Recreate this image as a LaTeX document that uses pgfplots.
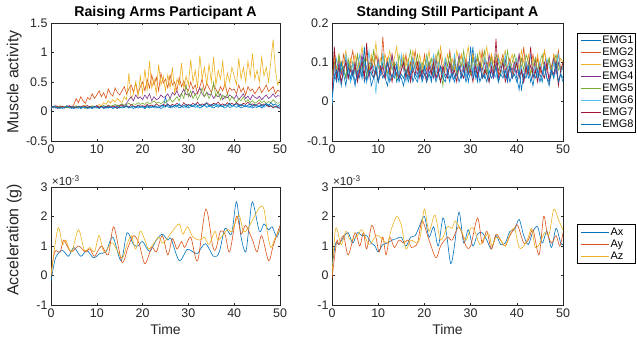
\documentclass[border=0pt]{standalone}
\usepackage{fontspec}
\setmainfont{Liberation Sans}
\usepackage{pgfplots}
\pgfplotsset{compat=1.18}
\usepackage{pgfplotstable}

\definecolor{c1}{rgb}{0,0.447,0.741}
\definecolor{c2}{rgb}{0.85,0.325,0.098}
\definecolor{c3}{rgb}{0.929,0.694,0.125}
\definecolor{c4}{rgb}{0.494,0.184,0.556}
\definecolor{c5}{rgb}{0.466,0.674,0.188}
\definecolor{c6}{rgb}{0.301,0.745,0.933}
\definecolor{c7}{rgb}{0.635,0.078,0.184}
\definecolor{axgray}{rgb}{0.15,0.15,0.15}

% ---------- Raising arms (top left), sampled every 0.5 s ----------
\pgfplotstableread[header=false,row sep=\\]{
0.05\\0.08\\0.06\\0.07\\0.05\\0.09\\0.06\\0.07\\0.08\\0.05\\
0.07\\0.06\\0.08\\0.05\\0.07\\0.09\\0.06\\0.07\\0.05\\0.08\\
0.06\\0.07\\0.09\\0.05\\0.07\\0.06\\0.08\\0.06\\0.07\\0.05\\
0.08\\0.06\\0.07\\0.09\\0.06\\0.08\\0.05\\0.07\\0.06\\0.08\\
0.07\\0.05\\0.08\\0.06\\0.09\\0.07\\0.06\\0.08\\0.05\\0.07\\
0.25\\0.08\\0.06\\0.09\\0.07\\0.1\\0.06\\0.08\\0.07\\0.09\\
0.06\\0.08\\0.1\\0.07\\0.09\\0.06\\0.08\\0.11\\0.07\\0.09\\
0.08\\0.06\\0.09\\0.07\\0.1\\0.08\\0.06\\0.09\\0.07\\0.08\\
0.1\\0.07\\0.09\\0.06\\0.08\\0.1\\0.07\\0.09\\0.06\\0.08\\
0.07\\0.09\\0.06\\0.1\\0.14\\0.08\\0.1\\0.07\\0.09\\0.06\\0.08\\}\raA
\pgfplotstableread[header=false,row sep=\\]{
0.06\\0.08\\0.07\\0.09\\0.06\\0.08\\0.07\\0.1\\0.08\\0.07\\
0.12\\0.22\\0.15\\0.25\\0.18\\0.14\\0.24\\0.2\\0.3\\0.22\\
0.28\\0.35\\0.25\\0.32\\0.22\\0.38\\0.3\\0.26\\0.4\\0.32\\
0.28\\0.35\\0.42\\0.3\\0.38\\0.45\\0.33\\0.48\\0.3\\0.42\\
0.5\\0.35\\0.55\\0.4\\0.62\\0.45\\0.58\\0.35\\0.65\\0.48\\
0.55\\0.4\\0.62\\0.45\\0.5\\0.35\\0.58\\0.42\\0.52\\0.4\\
0.35\\0.5\\0.38\\0.45\\0.3\\0.42\\0.55\\0.35\\0.48\\0.4\\
0.32\\0.45\\0.38\\0.3\\0.42\\0.35\\0.48\\0.3\\0.4\\0.36\\
0.38\\0.3\\0.45\\0.33\\0.4\\0.28\\0.42\\0.35\\0.38\\0.3\\
0.36\\0.42\\0.32\\0.38\\0.45\\0.34\\0.38\\0.42\\0.3\\0.36\\0.34\\}\raB
\pgfplotstableread[header=false,row sep=\\]{
0.07\\0.09\\0.06\\0.08\\0.1\\0.07\\0.09\\0.08\\0.06\\0.09\\
0.08\\0.1\\0.07\\0.09\\0.08\\0.11\\0.09\\0.07\\0.1\\0.08\\
0.09\\0.12\\0.1\\0.15\\0.12\\0.18\\0.14\\0.2\\0.16\\0.22\\
0.18\\0.15\\0.25\\0.2\\0.65\\0.22\\0.3\\0.5\\0.25\\0.6\\
0.3\\0.72\\0.35\\0.85\\0.4\\0.55\\0.3\\0.8\\0.45\\0.6\\
0.35\\0.62\\0.4\\0.75\\0.3\\0.55\\0.45\\0.82\\0.38\\0.6\\
0.45\\0.88\\0.5\\0.7\\0.4\\0.95\\0.55\\0.75\\0.45\\0.8\\
0.5\\0.92\\0.45\\0.7\\0.55\\0.85\\0.4\\0.65\\0.5\\0.75\\
0.6\\0.45\\0.9\\0.55\\0.75\\0.5\\0.85\\0.6\\0.98\\0.55\\
0.7\\0.5\\0.92\\0.6\\0.75\\0.5\\0.85\\1.22\\0.7\\0.45\\0.55\\}\raC
\pgfplotstableread[header=false,row sep=\\]{
0.06\\0.08\\0.07\\0.05\\0.09\\0.07\\0.06\\0.08\\0.07\\0.09\\
0.06\\0.08\\0.07\\0.09\\0.06\\0.08\\0.1\\0.07\\0.08\\0.06\\
0.09\\0.07\\0.08\\0.1\\0.07\\0.09\\0.08\\0.1\\0.09\\0.11\\
0.1\\0.12\\0.1\\0.14\\0.2\\0.25\\0.18\\0.28\\0.22\\0.25\\
0.2\\0.28\\0.22\\0.3\\0.18\\0.25\\0.2\\0.22\\0.28\\0.24\\
0.25\\0.3\\0.22\\0.32\\0.28\\0.35\\0.25\\0.3\\0.38\\0.28\\
0.3\\0.25\\0.35\\0.28\\0.32\\0.4\\0.3\\0.25\\0.33\\0.28\\
0.3\\0.22\\0.28\\0.25\\0.3\\0.2\\0.26\\0.23\\0.28\\0.25\\
0.22\\0.28\\0.2\\0.25\\0.3\\0.22\\0.26\\0.2\\0.28\\0.24\\
0.22\\0.26\\0.2\\0.24\\0.28\\0.22\\0.25\\0.3\\0.24\\0.27\\0.26\\}\raD
\pgfplotstableread[header=false,row sep=\\]{
0.07\\0.06\\0.08\\0.07\\0.09\\0.06\\0.08\\0.07\\0.06\\0.08\\
0.07\\0.09\\0.06\\0.08\\0.07\\0.05\\0.08\\0.07\\0.09\\0.08\\
0.07\\0.09\\0.08\\0.1\\0.08\\0.11\\0.09\\0.1\\0.12\\0.1\\
0.11\\0.13\\0.1\\0.12\\0.14\\0.11\\0.13\\0.12\\0.15\\0.12\\
0.14\\0.12\\0.16\\0.13\\0.15\\0.18\\0.14\\0.16\\0.13\\0.17\\
0.15\\0.18\\0.22\\0.16\\0.2\\0.25\\0.18\\0.3\\0.22\\0.45\\
0.25\\0.35\\0.22\\0.3\\0.2\\0.28\\0.4\\0.25\\0.32\\0.22\\
0.3\\0.5\\0.25\\0.35\\0.2\\0.28\\0.22\\0.3\\0.18\\0.25\\
0.2\\0.15\\0.22\\0.18\\0.25\\0.16\\0.2\\0.15\\0.18\\0.14\\
0.16\\0.2\\0.15\\0.18\\0.14\\0.17\\0.15\\0.2\\0.16\\0.14\\0.15\\}\raE
\pgfplotstableread[header=false,row sep=\\]{
0.08\\0.06\\0.09\\0.07\\0.05\\0.08\\0.06\\0.1\\0.07\\0.06\\
0.09\\0.07\\0.05\\0.08\\0.06\\0.09\\0.07\\0.05\\0.08\\0.06\\
0.07\\0.09\\0.06\\0.08\\0.05\\0.07\\0.09\\0.06\\0.08\\0.07\\
0.06\\0.08\\0.1\\0.07\\0.09\\0.06\\0.08\\0.07\\0.1\\0.08\\
0.06\\0.09\\0.07\\0.1\\0.08\\0.06\\0.09\\0.07\\0.11\\0.08\\
0.07\\0.1\\0.08\\0.12\\0.09\\0.07\\0.11\\0.08\\0.1\\0.06\\
0.09\\0.12\\0.08\\0.1\\0.07\\0.11\\0.09\\0.13\\0.08\\0.1\\
0.07\\0.11\\0.09\\0.12\\0.08\\0.1\\0.06\\0.09\\0.11\\0.08\\
0.1\\0.07\\0.12\\0.09\\0.11\\0.08\\0.1\\0.06\\0.09\\0.12\\
0.08\\0.11\\0.09\\0.07\\0.1\\0.12\\0.08\\0.1\\0.07\\0.09\\0.08\\}\raF
\pgfplotstableread[header=false,row sep=\\]{
0.09\\0.07\\0.1\\0.08\\0.06\\0.09\\0.07\\0.08\\0.1\\0.07\\
0.08\\0.06\\0.09\\0.07\\0.1\\0.08\\0.06\\0.09\\0.07\\0.08\\
0.1\\0.07\\0.09\\0.06\\0.08\\0.1\\0.07\\0.09\\0.08\\0.06\\
0.09\\0.11\\0.08\\0.1\\0.07\\0.12\\0.09\\0.08\\0.11\\0.09\\
0.1\\0.08\\0.12\\0.09\\0.11\\0.08\\0.13\\0.1\\0.09\\0.12\\
0.1\\0.13\\0.09\\0.12\\0.1\\0.14\\0.11\\0.09\\0.15\\0.1\\
0.12\\0.1\\0.14\\0.11\\0.16\\0.1\\0.13\\0.11\\0.15\\0.12\\
0.1\\0.14\\0.12\\0.16\\0.11\\0.13\\0.1\\0.15\\0.12\\0.14\\
0.11\\0.15\\0.12\\0.1\\0.14\\0.12\\0.16\\0.11\\0.13\\0.1\\
0.12\\0.15\\0.1\\0.13\\0.11\\0.08\\0.1\\0.06\\0.09\\0.07\\0.05\\}\raG
\pgfplotstableread[header=false,row sep=\\]{
0.06\\0.09\\0.07\\0.06\\0.08\\0.05\\0.07\\0.09\\0.06\\0.08\\
0.05\\0.07\\0.09\\0.06\\0.08\\0.07\\0.05\\0.08\\0.06\\0.09\\
0.07\\0.05\\0.08\\0.07\\0.09\\0.06\\0.08\\0.05\\0.07\\0.09\\
0.06\\0.08\\0.07\\0.1\\0.06\\0.08\\0.09\\0.06\\0.1\\0.07\\
0.09\\0.06\\0.1\\0.08\\0.07\\0.1\\0.08\\0.06\\0.09\\0.11\\
0.08\\0.12\\0.09\\0.07\\0.11\\0.09\\0.13\\0.08\\0.1\\0.12\\
0.09\\0.11\\0.08\\0.13\\0.1\\0.12\\0.08\\0.11\\0.14\\0.09\\
0.12\\0.1\\0.13\\0.09\\0.11\\0.08\\0.12\\0.1\\0.14\\0.09\\
0.11\\0.13\\0.09\\0.12\\0.1\\0.08\\0.11\\0.13\\0.09\\0.12\\
0.1\\0.08\\0.12\\0.09\\0.13\\0.1\\0.15\\0.11\\0.13\\0.09\\0.12\\}\raH

% ---------- Standing still (top right), sampled every 0.5 s ----------
\pgfplotstableread[header=false,row sep=\\]{
0.0\\0.07\\0.05\\0.09\\0.04\\0.08\\0.06\\0.1\\0.05\\0.07\\
0.04\\0.08\\0.06\\0.11\\0.05\\0.07\\0.09\\0.04\\0.06\\0.08\\
0.05\\0.07\\0.1\\0.06\\0.04\\0.08\\0.06\\0.09\\0.05\\0.07\\
0.06\\0.04\\0.08\\0.06\\0.1\\0.05\\0.07\\0.06\\0.09\\0.05\\
0.07\\0.06\\0.08\\0.05\\0.09\\0.06\\0.07\\0.05\\0.08\\0.06\\
0.07\\0.05\\0.09\\0.06\\0.08\\0.05\\0.07\\0.06\\0.1\\0.05\\
0.08\\0.14\\0.06\\0.09\\0.05\\0.07\\0.06\\0.1\\0.05\\0.08\\
0.06\\0.09\\0.05\\0.07\\0.1\\0.06\\0.08\\0.05\\0.07\\0.09\\
0.06\\0.03\\0.08\\0.05\\0.09\\0.06\\0.07\\0.04\\0.08\\0.06\\
0.07\\0.05\\0.09\\0.06\\0.04\\0.08\\0.06\\0.1\\0.05\\0.07\\0.05\\}\ssA
\pgfplotstableread[header=false,row sep=\\]{
0.02\\0.13\\0.08\\0.11\\0.07\\0.12\\0.09\\0.06\\0.1\\0.13\\
0.08\\0.12\\0.07\\0.1\\0.09\\0.13\\0.07\\0.11\\0.08\\0.12\\
0.09\\0.07\\0.165\\0.08\\0.11\\0.07\\0.12\\0.09\\0.1\\0.06\\
0.11\\0.08\\0.12\\0.07\\0.1\\0.09\\0.13\\0.08\\0.1\\0.07\\
0.12\\0.08\\0.1\\0.07\\0.11\\0.09\\0.08\\0.12\\0.07\\0.1\\
0.09\\0.13\\0.08\\0.11\\0.07\\0.1\\0.12\\0.08\\0.11\\0.09\\
0.07\\0.12\\0.09\\0.11\\0.08\\0.13\\0.07\\0.1\\0.09\\0.12\\
0.08\\0.11\\0.07\\0.1\\0.12\\0.08\\0.09\\0.11\\0.07\\0.1\\
0.09\\0.12\\0.08\\0.14\\0.07\\0.1\\0.09\\0.12\\0.08\\0.11\\
0.07\\0.1\\0.13\\0.08\\0.11\\0.07\\0.12\\0.09\\0.13\\0.08\\0.1\\}\ssB
\pgfplotstableread[header=false,row sep=\\]{
0.05\\0.11\\0.08\\0.12\\0.09\\0.1\\0.13\\0.08\\0.11\\0.09\\
0.12\\0.08\\0.1\\0.14\\0.09\\0.11\\0.08\\0.12\\0.1\\0.15\\
0.09\\0.11\\0.08\\0.12\\0.1\\0.13\\0.09\\0.11\\0.14\\0.08\\
0.1\\0.12\\0.09\\0.11\\0.08\\0.13\\0.1\\0.09\\0.12\\0.08\\
0.11\\0.09\\0.13\\0.08\\0.1\\0.12\\0.09\\0.14\\0.1\\0.08\\
0.12\\0.09\\0.11\\0.08\\0.13\\0.1\\0.12\\0.09\\0.11\\0.14\\
0.08\\0.12\\0.1\\0.09\\0.13\\0.08\\0.11\\0.14\\0.09\\0.12\\
0.1\\0.08\\0.12\\0.09\\0.11\\0.13\\0.08\\0.1\\0.12\\0.09\\
0.11\\0.08\\0.13\\0.1\\0.09\\0.12\\0.07\\0.11\\0.09\\0.12\\
0.08\\0.1\\0.13\\0.09\\0.11\\0.08\\0.12\\0.1\\0.09\\0.11\\0.1\\}\ssC
\pgfplotstableread[header=false,row sep=\\]{
0.03\\0.09\\0.06\\0.1\\0.07\\0.08\\0.11\\0.06\\0.09\\0.07\\
0.1\\0.06\\0.08\\0.12\\0.07\\0.09\\0.06\\0.1\\0.08\\0.07\\
0.11\\0.07\\0.09\\0.06\\0.1\\0.08\\0.12\\0.07\\0.09\\0.06\\
0.08\\0.1\\0.07\\0.09\\0.06\\0.11\\0.08\\0.07\\0.1\\0.06\\
0.09\\0.07\\0.1\\0.08\\0.06\\0.11\\0.07\\0.09\\0.08\\0.1\\
0.07\\0.09\\0.06\\0.1\\0.08\\0.12\\0.07\\0.09\\0.06\\0.1\\
0.08\\0.07\\0.11\\0.06\\0.09\\0.08\\0.1\\0.07\\0.12\\0.08\\
0.06\\0.1\\0.08\\0.09\\0.07\\0.11\\0.06\\0.09\\0.08\\0.1\\
0.07\\0.12\\0.08\\0.06\\0.1\\0.08\\0.09\\0.07\\0.11\\0.06\\
0.09\\0.07\\0.1\\0.08\\0.06\\0.09\\0.11\\0.07\\0.1\\0.08\\0.09\\}\ssD
\pgfplotstableread[header=false,row sep=\\]{
0.06\\0.1\\0.07\\0.12\\0.08\\0.09\\0.06\\0.11\\0.08\\0.1\\
0.07\\0.12\\0.09\\0.08\\0.11\\0.06\\0.1\\0.09\\0.13\\0.07\\
0.1\\0.08\\0.12\\0.09\\0.07\\0.11\\0.08\\0.1\\0.06\\0.12\\
0.09\\0.11\\0.07\\0.1\\0.13\\0.08\\0.09\\0.12\\0.07\\0.1\\
0.08\\0.12\\0.09\\0.11\\0.07\\0.1\\0.13\\0.08\\0.04\\0.11\\
0.09\\0.12\\0.08\\0.1\\0.07\\0.11\\0.09\\0.13\\0.08\\0.1\\
0.07\\0.11\\0.09\\0.12\\0.08\\0.1\\0.13\\0.07\\0.09\\0.11\\
0.08\\0.12\\0.1\\0.07\\0.11\\0.09\\0.13\\0.08\\0.1\\0.12\\
0.09\\0.07\\0.11\\0.08\\0.12\\0.1\\0.07\\0.09\\0.11\\0.08\\
0.1\\0.12\\0.08\\0.09\\0.11\\0.07\\0.1\\0.12\\0.08\\0.09\\0.08\\}\ssE
\pgfplotstableread[header=false,row sep=\\]{
-0.01\\0.08\\0.11\\0.06\\0.1\\0.07\\0.12\\0.08\\0.05\\0.1\\
0.07\\0.09\\0.12\\0.06\\0.1\\0.08\\0.13\\0.07\\0.09\\0.02\\
0.1\\0.07\\0.12\\0.08\\0.06\\0.11\\0.09\\0.07\\0.1\\0.06\\
0.12\\0.08\\0.05\\0.1\\0.07\\0.11\\0.09\\0.06\\0.1\\0.08\\
0.07\\0.11\\0.06\\0.09\\0.12\\0.07\\0.1\\0.08\\0.06\\0.11\\
0.08\\0.1\\0.06\\0.12\\0.08\\0.09\\0.07\\0.11\\0.06\\0.1\\
0.09\\0.07\\0.12\\0.08\\0.1\\0.06\\0.11\\0.09\\0.07\\0.1\\
0.08\\0.06\\0.11\\0.09\\0.07\\0.12\\0.08\\0.1\\0.06\\0.09\\
0.11\\0.07\\0.09\\0.06\\0.1\\0.08\\0.12\\0.07\\0.09\\0.06\\
0.1\\0.08\\0.06\\0.11\\0.09\\0.07\\0.1\\0.08\\0.12\\0.07\\0.09\\}\ssF
\pgfplotstableread[header=false,row sep=\\]{
0.02\\0.14\\0.06\\0.09\\0.05\\0.08\\0.1\\0.06\\0.08\\0.07\\
0.09\\0.05\\0.08\\0.1\\0.06\\0.15\\0.07\\0.09\\0.06\\0.08\\
0.05\\0.09\\0.07\\0.06\\0.1\\0.08\\0.05\\0.09\\0.07\\0.06\\
0.08\\0.1\\0.06\\0.09\\0.05\\0.08\\0.07\\0.1\\0.06\\0.08\\
0.07\\0.05\\0.09\\0.07\\0.1\\0.06\\0.08\\0.05\\0.09\\0.07\\
0.06\\0.1\\0.07\\0.08\\0.05\\0.09\\0.07\\0.06\\0.1\\0.07\\
0.08\\0.05\\0.09\\0.07\\0.1\\0.06\\0.08\\0.07\\0.05\\0.09\\
0.07\\0.16\\0.06\\0.08\\0.1\\0.05\\0.07\\0.09\\0.06\\0.08\\
0.1\\0.06\\0.08\\0.05\\0.09\\0.07\\0.14\\0.06\\0.08\\0.05\\
0.09\\0.07\\0.06\\0.1\\0.05\\0.08\\0.07\\0.1\\0.04\\0.08\\0.1\\}\ssG
\pgfplotstableread[header=false,row sep=\\]{
0.01\\0.06\\0.08\\0.05\\0.1\\0.07\\0.04\\0.09\\0.06\\0.08\\
0.05\\0.07\\0.09\\0.06\\0.14\\0.05\\0.08\\0.07\\0.06\\0.09\\
0.05\\0.08\\0.06\\0.07\\0.1\\0.05\\0.07\\0.06\\0.09\\0.05\\
0.07\\0.06\\0.08\\0.05\\0.07\\0.09\\0.06\\0.05\\0.08\\0.06\\
0.09\\0.05\\0.07\\0.06\\0.08\\0.05\\0.07\\0.09\\0.06\\0.05\\
0.08\\0.06\\0.07\\0.05\\0.07\\0.09\\0.06\\0.08\\0.05\\0.07\\
0.14\\0.06\\0.08\\0.05\\0.09\\0.06\\0.07\\0.05\\0.08\\0.06\\
0.07\\0.09\\0.05\\0.07\\0.06\\0.08\\0.05\\0.09\\0.06\\0.07\\
0.05\\0.08\\0.03\\0.07\\0.06\\0.09\\0.05\\0.07\\0.06\\0.08\\
0.05\\0.07\\0.09\\0.06\\0.05\\0.08\\0.06\\0.1\\0.05\\0.07\\0.06\\}\ssH

% ---------- Acceleration (x 10^-3 g) ----------
\pgfplotstableread[row sep=\\]{
t a\\0 -0.2\\1 0.6\\2.5 0.85\\3.8 0.65\\5 0.95\\6.5 0.65\\7.8 0.85\\9.3 0.6\\10.7 0.75\\12 0.8\\13.5 1.3\\15.3 0.5\\16.6 1.45\\18 1.05\\19 1.0\\20 1.15\\21.5 0.82\\23 1.2\\24.3 1.4\\25.5 1.2\\26.2 1.25\\28 0.5\\29.7 0.88\\31 0.8\\32 0.75\\33.7 1.08\\35.5 0.65\\36.7 0.78\\38 1.6\\39.4 1.4\\40.5 2.5\\41.5 1.3\\42.5 0.8\\43.2 1.6\\44 2.5\\45.5 1.5\\46.5 1.75\\47.5 1.55\\48.3 1.65\\49.3 1.3\\50 1.6\\}\raX
\pgfplotstableread[row sep=\\]{
t a\\0 0\\0.8 0.8\\2 0.8\\2.8 1.2\\4.3 0.8\\6 1.0\\7.5 0.8\\8.5 0.9\\9.5 0.65\\11 1.0\\12.5 0.7\\13.7 1.65\\15.5 0.45\\16.8 0.95\\18 1.35\\19.2 1.1\\20.5 0.4\\22 0.95\\23 0.8\\24.3 1.35\\25.5 0.7\\26.5 1.25\\27.5 0.9\\28.5 1.15\\29.2 0.95\\30.5 1.3\\32 0.5\\33.8 2.25\\35.3 1.0\\36 0.9\\37 1.5\\38 1.4\\39 0.8\\40.5 2.0\\41.5 1.4\\42.5 1.7\\44 1.2\\45 0.8\\46 1.35\\47.5 0.5\\48.5 1.0\\50 1.7\\}\raY
\pgfplotstableread[row sep=\\]{
t a\\0 0\\1.5 1.6\\2.5 1.05\\3.2 1.2\\4.5 0.8\\6 1.55\\7.3 0.85\\8.5 0.95\\9.5 0.8\\10.5 1.35\\11.5 0.8\\12.5 0.95\\13.5 1.1\\15.5 0.6\\16.5 1.0\\17.5 1.35\\18.5 0.9\\19.5 1.5\\20.5 1.2\\21.3 0.9\\22.5 1.1\\23.5 1.3\\24.5 1.1\\26.5 1.5\\28 1.75\\28.8 1.4\\29.8 1.65\\31 1.3\\32.5 1.2\\33.5 1.3\\34.5 1.05\\35.8 1.5\\36.5 1.2\\38.5 1.55\\39.5 1.5\\41 2.05\\42 1.5\\43 1.6\\45.5 2.3\\46.5 2.25\\47.2 1.5\\48 0.95\\49 1.3\\50 1.55\\}\raZ
\pgfplotstableread[row sep=\\]{
t a\\0 0.3\\0.8 1.1\\1.5 1.05\\2.5 1.3\\3.5 1.45\\4.5 1.1\\5.5 1.45\\6.5 1.35\\7.5 1.35\\8.5 1.1\\9.3 1.0\\10 0.8\\11 1.05\\12 1.1\\13 1.2\\14 1.25\\15 1.3\\16 1.0\\17 1.3\\18 1.35\\19 1.7\\20 2.0\\21 1.3\\22 1.65\\23 1.0\\24 1.95\\24.8 1.4\\25.7 0.4\\26.5 1.0\\27.5 2.15\\28.5 1.1\\29.5 1.55\\30.5 1.0\\31.5 1.4\\32.5 1.45\\33.5 1.2\\34.5 0.9\\35.5 1.35\\36.5 1.05\\37.5 1.1\\38.5 1.5\\39.5 1.55\\40.5 1.9\\41.5 1.35\\42.5 1.05\\43.5 1.5\\44.5 1.65\\45.5 1.1\\46.5 1.5\\47.5 0.95\\48.5 1.6\\49.5 1.1\\50 1.05\\}\ssX
\pgfplotstableread[row sep=\\]{
t a\\0 -0.1\\1 1.15\\1.5 1.05\\2.5 1.35\\3.5 0.7\\5 1.45\\6 1.0\\6.8 1.45\\7.5 0.9\\8.6 1.7\\9.5 1.3\\10.2 0.8\\11 1.3\\11.7 0.7\\12.5 1.3\\13.5 0.95\\14.5 1.2\\15.5 1.1\\16.5 1.2\\17.2 0.95\\18.5 1.1\\19.5 1.85\\21 1.2\\22.5 0.6\\23.5 1.0\\25 1.3\\26 1.2\\27.5 1.65\\29 1.0\\30 1.0\\31.5 1.95\\32.5 1.1\\33.5 1.5\\34.5 0.9\\35.5 1.4\\36.5 1.2\\37.5 1.0\\38.5 1.35\\39.5 1.6\\40.2 1.7\\41.5 1.1\\42.5 1.2\\43.5 1.55\\44.8 0.7\\45.8 2.0\\46.5 1.5\\47.5 1.1\\48.5 1.35\\49.3 1.0\\50 1.45\\}\ssY
\pgfplotstableread[row sep=\\]{
t a\\0 0\\0.8 1.6\\2 1.05\\3 1.5\\4 1.2\\5.5 1.35\\6.5 1.55\\8 1.05\\9.5 1.35\\10.5 1.3\\12 1.1\\12.8 1.55\\14 2.0\\15 1.7\\16 0.9\\17 1.2\\18.5 1.1\\19.2 1.4\\20 2.25\\21 1.5\\22.3 2.05\\23.5 1.2\\25 1.65\\26 1.6\\26.7 1.85\\28 1.5\\29 1.2\\30 1.6\\30.8 1.55\\32 1.05\\33 1.3\\34 1.4\\34.6 1.0\\35.5 1.3\\36.5 1.2\\37.5 1.0\\38.5 1.4\\39.5 1.6\\40.5 0.95\\41.5 1.0\\42.5 1.3\\43.2 1.6\\44 0.95\\45 1.1\\46 1.45\\47 1.4\\48 2.25\\49 1.9\\50 1.55\\}\ssZ

\pgfplotsset{
  table/emgplot/.style={x expr=\coordindex*0.5, y index=0},
  mlax/.style={
    scale only axis, width=229bp, height=118bp,
    xmin=0, xmax=50, xtick={0,10,20,30,40,50},
    axis line style={axgray, line width=0.6bp},
    tick style={axgray, line width=0.6bp},
    major tick length=2.5bp,
    tick align=inside,
    ticklabel style={font=\fontsize{12.5}{14}\selectfont, text=axgray},
    /pgf/number format/assume math mode=true,
    every axis plot/.append style={line width=0.6bp, no marks},
    every axis title shift=0pt,
    title style={at={(axis description cs:0.5,1.053)}, anchor=base, font=\bfseries\fontsize{14.2}{16}\selectfont},
    ylabel style={at={(axis description cs:-0.16,0.5)}, anchor=center, font=\fontsize{16}{18}\selectfont, text=axgray},
    xlabel style={at={(axis description cs:0.5,-0.246)}, anchor=base, font=\fontsize{14}{16}\selectfont, text=axgray},
    legend cell align=left,
  },
  mllegend/.style={
    legend style={anchor=north west, draw=black, line width=0.5bp,
      font=\fontsize{11}{12}\selectfont, inner xsep=1bp, inner ysep=2bp, row sep=0.45bp,
      nodes={inner xsep=1bp, inner ysep=1.2bp}}},
  scalelab/.style={after end axis/.code={
    \node[anchor=south west, inner sep=0.8bp, text=axgray, font=\fontsize{11.8}{13}\selectfont] at (rel axis cs:0,1) {×10\textsuperscript{-3}};}},
}

\begin{document}
\begin{tikzpicture}[x=1bp,y=1bp]
\useasboundingbox (0,0) rectangle (637,343);

% top left
\begin{axis}[mlax, at={(51bp,202bp)}, anchor=south west,
  ymin=-0.5, ymax=1.5, ytick={-0.5,0,0.5,1,1.5},
  title={Raising Arms Participant A}, ylabel={Muscle activity}]
\addplot[c1] table[emgplot]{\raA};
\addplot[c2] table[emgplot]{\raB};
\addplot[c3] table[emgplot]{\raC};
\addplot[c4] table[emgplot]{\raD};
\addplot[c5] table[emgplot]{\raE};
\addplot[c6] table[emgplot]{\raF};
\addplot[c7] table[emgplot]{\raG};
\addplot[c1] table[emgplot]{\raH};
\end{axis}

% top right
\begin{axis}[mlax, mllegend, at={(332bp,202bp)}, anchor=south west, width=231bp,
  ymin=-0.1, ymax=0.2, ytick={-0.1,0,0.1,0.2},
  title={Standing Still Participant A},
  legend style={at={(1.0606,0.918)}},
  legend image code/.code={\path (0bp,0bp); \draw[#1, line width=0.7bp] (2.4bp,0bp) -- (22.4bp,0bp);}]
\addplot[c1] table[emgplot]{\ssA};
\addplot[c2] table[emgplot]{\ssB};
\addplot[c3] table[emgplot]{\ssC};
\addplot[c4] table[emgplot]{\ssD};
\addplot[c5] table[emgplot]{\ssE};
\addplot[c6] table[emgplot]{\ssF};
\addplot[c7] table[emgplot]{\ssG};
\addplot[c1] table[emgplot]{\ssH};
\legend{EMG1,EMG2,EMG3,EMG4,EMG5,EMG6,EMG7,EMG8}
\end{axis}

% bottom left
\begin{axis}[mlax, scalelab, at={(51bp,38bp)}, anchor=south west,
  ymin=-1, ymax=3, ytick={-1,0,1,2,3},
  xlabel={Time}, ylabel={Acceleration (g)},
  ylabel style={at={(axis description cs:-0.16,0.55)}}]
\addplot[c1, smooth] table[x=t,y=a]{\raX};
\addplot[c2, smooth] table[x=t,y=a]{\raY};
\addplot[c3, smooth] table[x=t,y=a]{\raZ};
\end{axis}

% bottom right
\begin{axis}[mlax, mllegend, scalelab, at={(332bp,38bp)}, anchor=south west, width=231bp,
  ymin=-1, ymax=3, ytick={-1,0,1,2,3},
  xlabel={Time},
  legend style={at={(1.0606,0.684)}},
  legend image code/.code={\path (0bp,0bp); \draw[#1, line width=0.7bp] (2.4bp,0bp) -- (30.7bp,0bp);}]
\addplot[c1, smooth] table[x=t,y=a]{\ssX};
\addplot[c2, smooth] table[x=t,y=a]{\ssY};
\addplot[c3, smooth] table[x=t,y=a]{\ssZ};
\legend{Ax\hspace*{10bp},Ay\hspace*{10bp},Az\hspace*{10bp}}
\end{axis}
\end{tikzpicture}
\end{document}
